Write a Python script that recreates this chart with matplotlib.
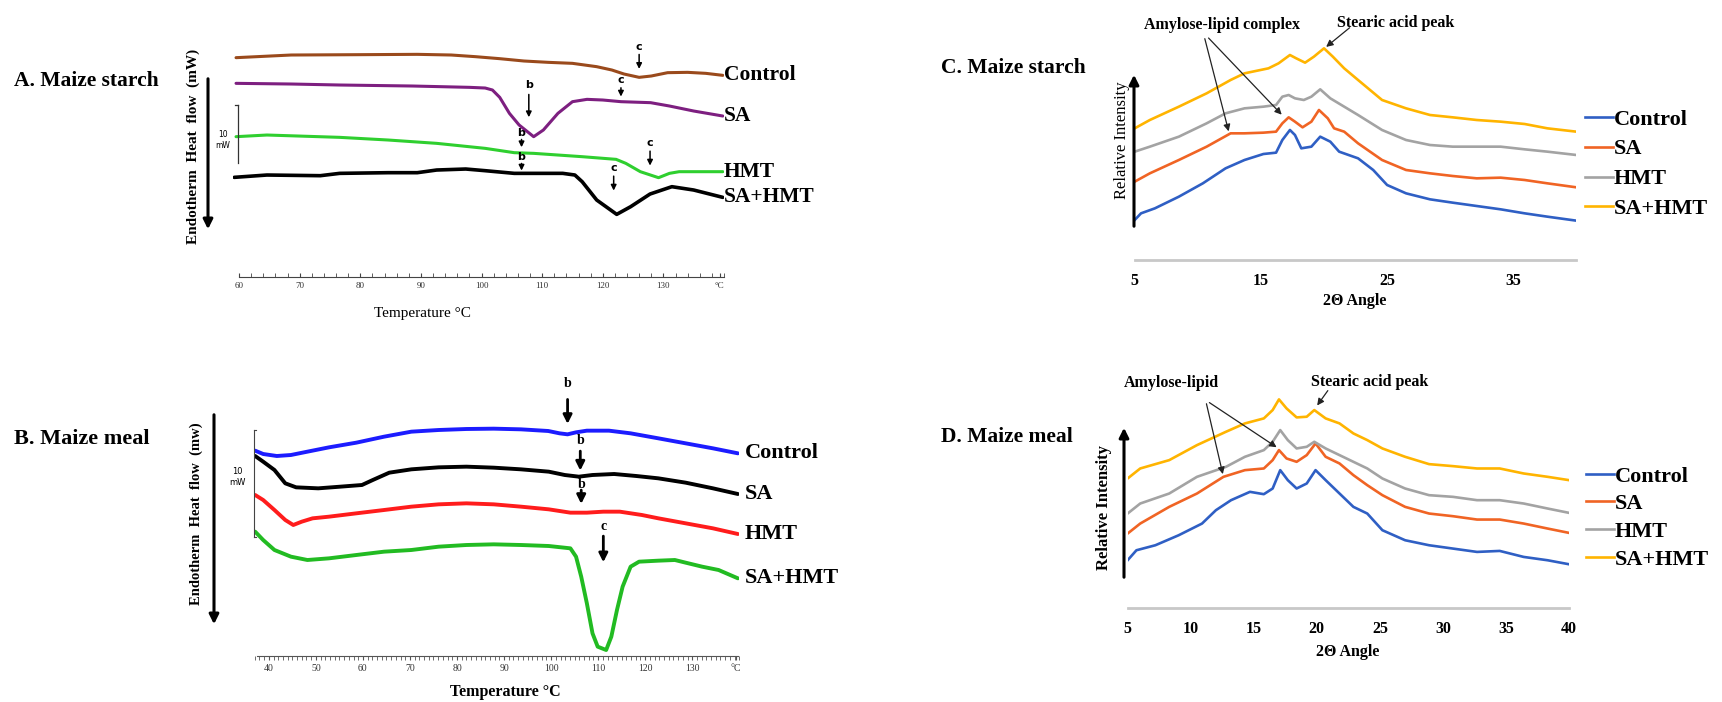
import matplotlib
matplotlib.use("Agg")
import matplotlib.pyplot as plt
from matplotlib.ticker import MultipleLocator

plt.rcParams['font.family'] = ['Liberation Serif', 'DejaVu Serif']

W, H = 1722, 702

# ---------------- Panel A: DSC, maize starch (heat flow in a.u., endotherm down)
a_temp_control = [59.5, 68.6, 80, 89.4, 95, 99, 103, 107, 111, 115, 119, 121.5, 123.5, 126, 128, 130.7, 134, 137, 139.8]
a_hf_control = [173, 165, 164, 163, 165, 170, 176, 183, 187, 190, 200, 210, 222, 232, 228, 218, 217, 220, 226]
a_temp_sa = [59.5, 68.6, 76.6, 88.6, 98, 100.6, 101.8, 103, 104.6, 106.2, 108.6, 110.2, 112.6, 115, 117.4, 120, 123, 127.9, 131, 135, 139.8]
a_hf_sa = [250, 252, 255, 258, 262, 264, 270, 292, 340, 375, 410, 390, 340, 305, 298, 300, 305, 308, 318, 333, 348]
a_temp_hmt = [59.5, 64.6, 76.6, 84.6, 92.6, 100.6, 105.4, 108.6, 116.6, 122.2, 123.8, 126.2, 129.2, 131, 132.6, 139.8]
a_hf_hmt = [410, 405, 412, 420, 430, 445, 458, 460, 470, 478, 490, 515, 533, 520, 515, 515]
a_temp_sahmt = [59.2, 64.6, 73.4, 76.6, 84.6, 89.4, 92.6, 97.4, 100.6, 105.4, 108.6, 113.4, 115.4, 116.6, 119, 122.3, 124.6, 127.8, 131.4, 135, 139.8]
a_hf_sahmt = [532, 525, 527, 520, 518, 518, 510, 507, 512, 520, 520, 520, 525, 545, 600, 643, 620, 582, 560, 570, 592]

# peak markers: (letter, temperature, label pos, arrow start, arrow end)
a_marks = [("c", 126, 140, 155, 215), ("b", 107.8, 255, 275, 360), ("c", 123, 240, 255, 298),
           ("b", 106.6, 400, 410, 450), ("c", 127.8, 430, 445, 505),
           ("b", 106.6, 470, 482, 520), ("c", 121.8, 505, 520, 580)]

# ---------------- Panel B: DSC, maize meal
b_temp_control = [37.1, 38.8, 41.7, 44.7, 48.2, 52.8, 58.6, 64.5, 70.3, 76.1, 82, 87.8, 93.6, 99.4, 101.8, 103.5, 105.3, 107.6, 112.3, 116.9, 122.8, 128.6, 134.4, 139.7]
b_hf_control = [242, 252, 258, 255, 245, 232, 218, 200, 185, 180, 177, 176, 178, 183, 190, 193, 187, 182, 182, 190, 205, 220, 235, 250]
b_temp_sa = [37.1, 38.8, 41.2, 43.5, 45.8, 50.5, 55.2, 59.8, 62.1, 65.6, 70.3, 76.1, 82, 87.8, 93.6, 99.5, 102.9, 105.9, 108.8, 113.4, 118.1, 122.8, 128.6, 134.4, 139.7]
b_hf_sa = [258, 275, 300, 340, 352, 355, 350, 345, 330, 308, 298, 292, 290, 293, 298, 305, 315, 320, 315, 312, 318, 325, 338, 355, 372]
b_temp_hmt = [37.1, 38.8, 41.2, 43.5, 45.2, 47, 49.3, 52.8, 58.6, 64.5, 70.3, 76.1, 82, 87.8, 93.6, 99.5, 104.1, 107.6, 111.1, 114.6, 119.3, 122.8, 128.6, 134.4, 139.7]
b_hf_hmt = [375, 390, 420, 450, 465, 455, 445, 440, 430, 420, 410, 403, 400, 403, 410, 418, 428, 428, 425, 425, 435, 445, 460, 475, 492]
b_temp_sahmt = [37.1, 38.8, 41.2, 44.7, 48.2, 52.8, 58.6, 64.5, 70.3, 76.1, 82, 87.8, 93.6, 99.5, 104.1, 105.3, 106.4, 107.6, 108.8, 109.9, 111.7, 112.8, 114, 115.2, 116.9, 118.7, 122.8, 126.3, 128.6, 132.1, 135.6, 139.7]
b_hf_sahmt = [485, 510, 540, 560, 570, 565, 555, 545, 540, 530, 525, 523, 525, 528, 535, 560, 620, 700, 790, 830, 840, 800, 720, 650, 590, 575, 572, 570, 578, 590, 600, 625]

b_marks = [("b", 103.5, 40, 80, 170), ("b", 106.2, 210, 235, 310),
           ("b", 106.4, 345, 352, 410), ("c", 111.1, 470, 490, 585)]

# ---------------- Panel C: XRD, maize starch (relative intensity, a.u.)
c_theta_control = [5, 5.5, 6.6, 8.5, 10.4, 12.2, 13.7, 15.2, 16.2, 16.7, 17.3, 17.7, 18.2, 19, 19.7, 20.5, 21.2, 22.7, 23.9, 25, 26.5, 28.4, 30.2, 32.1, 34, 35.9, 37.7, 40]
c_int_control = [120, 140, 155, 190, 230, 275, 300, 318, 322, 360, 390, 375, 335, 340, 370, 355, 325, 305, 270, 225, 200, 182, 172, 162, 152, 140, 130, 118]
c_theta_sa = [5, 6.2, 8.5, 10.7, 12.6, 13.7, 15.2, 16.2, 16.7, 17.2, 17.7, 18.3, 19, 19.6, 20.3, 20.8, 21.6, 22.7, 24.6, 26.5, 28.4, 30.2, 32.1, 34, 35.9, 37.7, 40]
c_int_sa = [235, 260, 300, 340, 380, 380, 382, 385, 410, 428, 415, 398, 415, 450, 425, 395, 385, 350, 300, 270, 260, 252, 245, 247, 240, 230, 218]
c_theta_hmt = [5, 6.2, 8.5, 10.7, 12.2, 13.7, 15.2, 16.2, 16.7, 17.2, 17.7, 18.4, 19, 19.7, 20.5, 21.6, 22.7, 24.6, 26.5, 28.4, 30.2, 32.1, 34, 35.9, 37.7, 40]
c_int_hmt = [325, 340, 370, 410, 440, 455, 460, 465, 490, 495, 485, 480, 490, 512, 485, 460, 435, 390, 360, 345, 340, 340, 340, 332, 325, 315]
c_theta_sahmt = [5, 6.2, 8.5, 10.7, 12.6, 13.7, 15.6, 16.4, 17.3, 17.8, 18.5, 19.2, 20, 20.7, 21.6, 22.7, 24.6, 26.5, 28.4, 30.2, 32.1, 34, 35.9, 37.7, 40]
c_int_sahmt = [395, 420, 460, 500, 540, 560, 575, 590, 615, 605, 592, 610, 635, 610, 575, 540, 480, 455, 435, 428, 420, 415, 408, 395, 385]

# ---------------- Panel D: XRD, maize meal
d_theta_control = [5, 5.7, 7.2, 9.05, 10.9, 12, 13.2, 14.7, 15.8, 16.5, 17.1, 17.7, 18.4, 19.2, 19.9, 20.7, 21.8, 22.9, 24, 25.2, 27, 28.9, 30.8, 32.7, 34.5, 36.4, 38.3, 40]
d_int_control = [143, 173, 188, 218, 253, 293, 323, 348, 341, 358, 413, 383, 358, 373, 413, 383, 343, 303, 283, 233, 203, 188, 178, 168, 171, 153, 143, 131]
d_theta_sa = [5, 6, 8.3, 10.5, 12.6, 14.3, 15.8, 16.5, 17, 17.6, 18.4, 19.2, 19.9, 20.7, 21.8, 22.9, 24, 25.2, 27, 28.9, 30.8, 32.7, 34.5, 36.4, 38.3, 40]
d_int_sa = [223, 253, 303, 343, 393, 413, 418, 443, 473, 448, 438, 458, 493, 453, 433, 398, 368, 338, 303, 283, 275, 265, 265, 253, 238, 225]
d_theta_hmt = [5, 6, 8.3, 10.5, 12.8, 14.3, 15.8, 16.5, 17.1, 17.7, 18.4, 19.2, 19.8, 20.7, 21.8, 22.9, 24, 25.2, 27, 28.9, 30.8, 32.7, 34.5, 36.4, 38.3, 40]
d_int_hmt = [283, 313, 343, 393, 423, 453, 473, 498, 533, 503, 478, 483, 498, 478, 458, 438, 418, 388, 358, 338, 333, 323, 323, 313, 298, 285]
d_theta_sahmt = [5, 6, 8.3, 10.5, 12.8, 14.3, 15.8, 16.5, 17, 17.6, 18.4, 19.2, 19.8, 20.7, 21.8, 22.9, 24, 25.2, 27, 28.9, 30.8, 32.7, 34.5, 36.4, 38.3, 40]
d_int_sahmt = [388, 418, 443, 488, 528, 553, 568, 593, 625, 598, 571, 573, 593, 568, 553, 523, 503, 478, 453, 431, 425, 418, 418, 403, 393, 383]

labels = ["Control", "SA", "HMT", "SA+HMT"]
dsc_a_colors = ["#9a4a1c", "#7d1f80", "#2fcf2f", "#000000"]
dsc_b_colors = ["#1c1cff", "#000000", "#ff1c1c", "#22bb22"]
xrd_colors = ["#2f5fc4", "#f06424", "#a3a3a3", "#ffb400"]


def fig_xy(x, y):
    # pixel position (from top-left) to figure fraction
    return x / W, 1 - y / H


def place(left, top, right, bottom):
    return fig.add_axes([left / W, 1 - bottom / H, (right - left) / W, (bottom - top) / H])


def hide(ax, keep_bottom=True):
    for s in ["top", "left", "right"]:
        ax.spines[s].set_visible(False)
    ax.spines["bottom"].set_visible(keep_bottom)
    ax.set_yticks([])
    ax.patch.set_alpha(0)


def yarrow(x, y_tail, y_head, lw=2.2):
    fig.add_artist(matplotlib.patches.FancyArrowPatch(
        fig_xy(x, y_tail), fig_xy(x, y_head), transform=fig.transFigure,
        arrowstyle="-|>", mutation_scale=14, lw=lw, color="k"))


fig = plt.figure(figsize=(W / 100, H / 100), dpi=100)

# ===== Panel A
axA = place(233, 0, 724, 276.7)
axA.set_xlim(59, 140)
axA.set_ylim(830, 0)
hide(axA)
axA.spines["bottom"].set_bounds(60, 140)
axA.spines["bottom"].set_color("#444444")
a_curves = [(a_temp_control, a_hf_control), (a_temp_sa, a_hf_sa), (a_temp_hmt, a_hf_hmt), (a_temp_sahmt, a_hf_sahmt)]
for (t, h), col, lab in zip(a_curves, dsc_a_colors, labels):
    axA.plot(t, h, color=col, lw=2.6 if lab == "SA+HMT" else 2.2, solid_capstyle="round")
    axA.text(t[-1] + 0.2, h[-1], lab, fontsize=15.5, fontweight="bold", va="center", ha="left")
for letter, t, hl, h0, h1 in a_marks:
    axA.annotate("", xy=(t, h1), xytext=(t, h0),
                 arrowprops=dict(arrowstyle="-|>", lw=1.1, color="k", mutation_scale=8))
    axA.text(t, hl, letter, fontsize=8, fontweight="bold", ha="center", va="center", family="DejaVu Sans")
axA.set_xticks([60, 70, 80, 90, 100, 110, 120, 130, 139.3])
axA.set_xticklabels(["60", "70", "80", "90", "100", "110", "120", "130", "°C"], fontsize=6.5, color="#333333")
axA.xaxis.set_minor_locator(MultipleLocator(2))
axA.tick_params(axis="x", which="both", direction="in", length=3, pad=4, color="#444444")
fig.text(*fig_xy(422, 313), "Temperature °C", fontsize=11, ha="center", va="center")
# scale bar 10 mW
axA.plot([59.75, 59.75], [315, 490], color="#333333", lw=0.9, clip_on=False)
axA.plot([59.35, 59.75], [315, 315], color="#333333", lw=0.9, clip_on=False)
fig.text(*fig_xy(223, 140), "10\nmW", fontsize=5.5, ha="center", va="center", linespacing=1.3, family="DejaVu Sans")
yarrow(208, 76, 232)
fig.text(*fig_xy(193, 146), "Endotherm  Heat  flow  (mW)", rotation=90, fontsize=11, fontweight="bold",
         ha="center", va="center")
fig.text(*fig_xy(14, 81), "A. Maize starch", fontsize=15.5, fontweight="bold", ha="left", va="center")

# ===== Panel B
axB = place(254.7, 370, 739.3, 656)
axB.set_xlim(37, 140)
axB.set_ylim(858, 0)
hide(axB)
axB.spines["bottom"].set_bounds(37.4, 139.7)
axB.spines["bottom"].set_color("#555555")
b_curves = [(b_temp_control, b_hf_control), (b_temp_sa, b_hf_sa), (b_temp_hmt, b_hf_hmt), (b_temp_sahmt, b_hf_sahmt)]
for (t, h), col, lab in zip(b_curves, dsc_b_colors, labels):
    axB.plot(t, h, color=col, lw=2.8, solid_capstyle="round")
    axB.text(t[-1] + 1.5, h[-1], lab, fontsize=16, fontweight="bold", va="center", ha="left")
for letter, t, hl, h0, h1 in b_marks:
    axB.annotate("", xy=(t, h1), xytext=(t, h0),
                 arrowprops=dict(arrowstyle="-|>", lw=2.0, color="k", mutation_scale=13))
    axB.text(t, hl, letter, fontsize=10, fontweight="bold", ha="center", va="center")
axB.set_xticks([40, 50, 60, 70, 80, 90, 100, 110, 120, 130, 139.3])
axB.set_xticklabels(["40", "50", "60", "70", "80", "90", "100", "110", "120", "130", "°C"], fontsize=7, color="#333333")
axB.xaxis.set_minor_locator(MultipleLocator(1))
axB.tick_params(axis="x", which="both", direction="out", length=3, pad=3, color="#555555")
fig.text(*fig_xy(505, 692), "Temperature °C", fontsize=11.5, fontweight="bold", ha="center", va="center")
axB.plot([36.8, 36.8], [180, 500], color="#444444", lw=0.8, clip_on=False)
axB.plot([36.8, 37.3], [180, 180], color="#444444", lw=0.8, clip_on=False)
axB.plot([36.8, 37.3], [500, 500], color="#444444", lw=0.8, clip_on=False)
fig.text(*fig_xy(237, 477), "10\nmW", fontsize=6, ha="center", va="center", linespacing=1.3, family="DejaVu Sans")
yarrow(214, 412, 627)
fig.text(*fig_xy(196, 514), "Endotherm  Heat  flow  (mw)", rotation=90, fontsize=10.5, fontweight="bold",
         ha="center", va="center")
fig.text(*fig_xy(14, 439), "B. Maize meal", fontsize=16, fontweight="bold", ha="left", va="center")


# ===== Panels C and D (XRD)
def xrd_panel(ax, curves, ticks, ymax, pad, amy_label, amy_xy, st_xy, amy_arrows, st_arrow, leg_anchor, leg_space):
    ax.set_xlim(5, 40)
    ax.set_ylim(0, ymax)
    hide(ax)
    ax.spines["bottom"].set_color("#c8c8c8")
    ax.spines["bottom"].set_linewidth(2)
    lines = []
    for (th, inten), col, lab in zip(curves, xrd_colors, labels):
        ln, = ax.plot(th, inten, color=col, lw=1.9, label=lab)
        lines.append(ln)
    ax.set_xticks(ticks)
    ax.set_xticklabels([str(t) for t in ticks], fontsize=11.5, fontweight="bold")
    ax.tick_params(axis="x", length=0, pad=pad)
    ax.text(*amy_xy, amy_label, fontsize=11.5, fontweight="bold", ha="center", va="center")
    ax.text(*st_xy, "Stearic acid peak", fontsize=11.5, fontweight="bold", ha="center", va="center")
    for tail, head in amy_arrows + [st_arrow]:
        ax.annotate("", xy=head, xytext=tail,
                    arrowprops=dict(arrowstyle="-|>", lw=0.9, color="#222222", mutation_scale=10))
    leg = fig.legend(lines, labels, loc="upper left", bbox_to_anchor=fig_xy(*leg_anchor),
                     frameon=False, prop=dict(size=16, weight="bold"), handlelength=1.25,
                     handletextpad=0.05, labelspacing=leg_space, borderpad=0, borderaxespad=0)
    return leg


axC = place(1134.7, 0, 1576.4, 260)
c_curves = [(c_theta_control, c_int_control), (c_theta_sa, c_int_sa), (c_theta_hmt, c_int_hmt), (c_theta_sahmt, c_int_sahmt)]
xrd_panel(axC, c_curves, [5, 15, 25, 35], 780, 9.5, "Amylose-lipid complex", (11.9, 705), (25.7, 712),
          [((10.5, 672), (12.5, 378)), ((10.7, 672), (16.8, 430))], ((22.2, 702), (20.0, 634)),
          (1585, 109), 0.42)
fig.text(*fig_xy(1355, 301), "2Θ Angle", fontsize=11.5, fontweight="bold", ha="center", va="center")
yarrow(1134, 229, 72)
fig.text(*fig_xy(1122, 140), "Relative Intensity", rotation=90, fontsize=12, ha="center", va="center")
fig.text(*fig_xy(1086, 68), "C. Maize starch", fontsize=15.5, fontweight="bold", ha="right", va="center")

axD = place(1127.6, 360, 1569.1, 608)
d_curves = [(d_theta_control, d_int_control), (d_theta_sa, d_int_sa), (d_theta_hmt, d_int_hmt), (d_theta_sahmt, d_int_sahmt)]
xrd_panel(axD, d_curves, [5, 10, 15, 20, 25, 30, 35, 40], 743, 9.5, "Amylose-lipid", (8.5, 673), (24.2, 678),
          [((11.2, 620), (12.6, 393)), ((11.3, 620), (17.0, 477))], ((21.0, 658), (19.9, 600)),
          (1586, 466), 0.32)
fig.text(*fig_xy(1348, 652), "2Θ Angle", fontsize=11.5, fontweight="bold", ha="center", va="center")
yarrow(1124, 580, 425)
fig.text(*fig_xy(1104, 508), "Relative Intensity", rotation=90, fontsize=12, fontweight="bold", ha="center", va="center")
fig.text(*fig_xy(1073, 437), "D. Maize meal", fontsize=15.5, fontweight="bold", ha="right", va="center")

fig.savefig("out.png", dpi=100, facecolor="white")
